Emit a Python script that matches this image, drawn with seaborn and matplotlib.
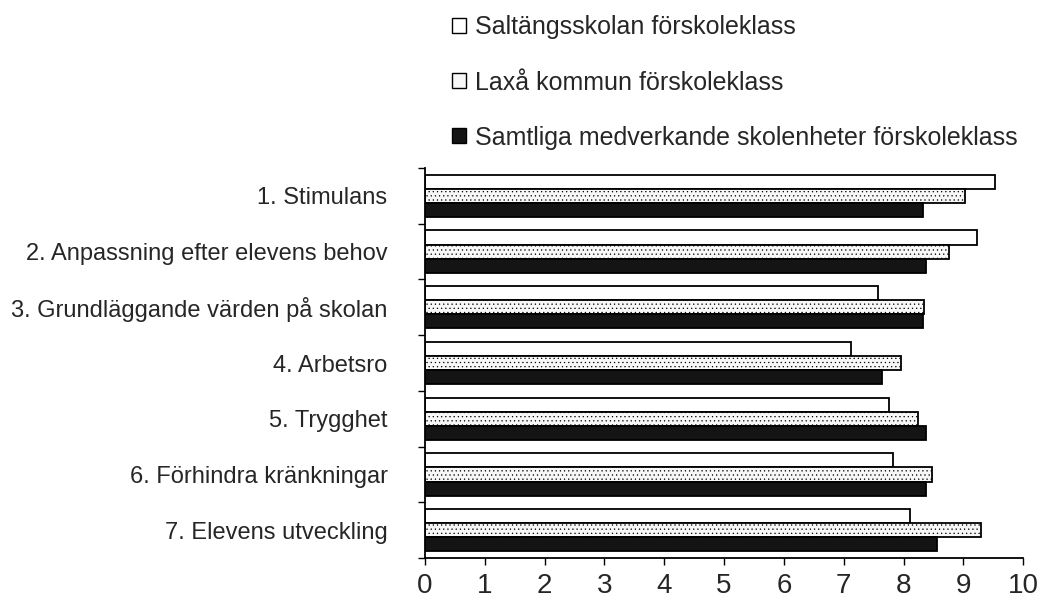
import pandas as pd
import numpy as np
import matplotlib.pyplot as plt
import seaborn as sns

# data
kategorier = ['1. Stimulans', '2. Anpassning efter elevens behov', '3. Grundläggande värden på skolan',
              '4. Arbetsro', '5. Trygghet', '6. Förhindra kränkningar', '7. Elevens utveckling']
serier = ['Saltängsskolan förskoleklass', 'Laxå kommun förskoleklass',
          'Samtliga medverkande skolenheter förskoleklass']
saltang = [9.53, 9.22, 7.57, 7.12, 7.76, 7.82, 8.11]
laxa = [9.02, 8.76, 8.35, 7.96, 8.24, 8.48, 9.30]
samtliga = [8.33, 8.37, 8.33, 7.64, 8.37, 8.38, 8.56]
x_ticks = list(range(0, 11))

df = pd.DataFrame({
    'kategori': kategorier * 3,
    'serie': [serier[0]] * 7 + [serier[1]] * 7 + [serier[2]] * 7,
    'varde': saltang + laxa + samtliga,
})

sns.set_style('white')
plt.rcParams['font.family'] = ['Liberation Sans', 'DejaVu Sans']
plt.rcParams['hatch.color'] = '#c4c4c4'
plt.rcParams['hatch.linewidth'] = 0.4

fig, ax = plt.subplots(figsize=(10.43, 6.01), dpi=100)
fig.subplots_adjust(left=0.4075, right=0.981, top=0.7205, bottom=0.0715)

farger = {serier[0]: '#ffffff', serier[1]: '#f7f7f7', serier[2]: '#141414'}
sns.barplot(data=df, y='kategori', x='varde', hue='serie', order=kategorier, hue_order=serier,
            palette=farger, width=0.76, edgecolor='black', linewidth=1.3, ax=ax, legend=False)

# faint speckle on the Laxå bars
for patch in ax.containers[1]:
    patch.set_hatch('....')
    patch.set_edgecolor('black')

ax.set_xlim(0, 10)
ax.set_ylim(6.5, -0.5)
ax.set_xticks(x_ticks)
ax.set_xticklabels([str(t) for t in x_ticks], fontsize=20)
ax.set_yticks(range(len(kategorier)))
ax.set_yticklabels(kategorier, fontsize=17)
ax.set_yticks(np.arange(-0.5, 7, 1), minor=True)
ax.tick_params(axis='y', which='major', left=False, length=0, pad=27)
ax.tick_params(axis='y', which='minor', left=True, length=5, width=1, color='black', direction='out')
ax.tick_params(axis='x', bottom=True, length=5, width=1, color='black', direction='out', pad=6)
ax.set_xlabel('')
ax.set_ylabel('')

for s in ['top', 'right']:
    ax.spines[s].set_visible(False)
for s in ['left', 'bottom']:
    ax.spines[s].set_color('black')
    ax.spines[s].set_linewidth(1.3)

handles = [plt.Rectangle((0, 0), 1, 1, facecolor=farger[s], edgecolor='black', linewidth=1) for s in serier]
fig.legend(handles, serier, loc='upper left', bbox_to_anchor=(0.412, 1.012), frameon=False,
           fontsize=18, handlelength=0.55, handleheight=0.55, handletextpad=0.35, labelspacing=1.25)

plt.savefig('out.png', dpi=100)
